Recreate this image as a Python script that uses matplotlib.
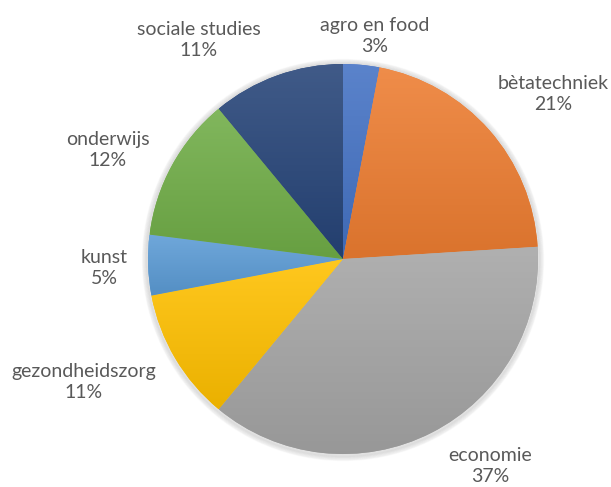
import numpy as np
import matplotlib.pyplot as plt
from matplotlib.colors import to_rgb

# data
sectors = ['agro en food', 'bètatechniek', 'economie', 'gezondheidszorg',
           'kunst', 'onderwijs', 'sociale studies']
shares = [3, 21, 37, 11, 5, 12, 11]
colors = ['#4472C4', '#ED7D31', '#A5A5A5', '#FFC000', '#5B9BD5', '#70AD47', '#264478']

# label anchor points (pixels, from top-left)
label_pos = [(375, 36), (553, 94), (490, 466), (84, 382), (104, 268), (108, 150), (199, 40)]

W, H = 611, 487
cx, cy, r = 343, 259, 195

fig = plt.figure(figsize=(W / 100, H / 100), dpi=100)
ax = fig.add_axes([0, 0, 1, 1])
ax.axis('off')

# soft shadow
for i in range(6):
    sh = plt.Circle((cx, H - cy - 1), r + 1.5 + i * 0.8, color='black', alpha=0.02, zorder=0)
    ax.add_patch(sh)

wedges, _ = ax.pie(shares, startangle=90, counterclock=False, center=(cx, H - cy),
                   radius=r, colors=colors, wedgeprops=dict(linewidth=0))
ax.set_xlim(0, W)
ax.set_ylim(0, H)
ax.set_aspect('equal')


def shade(c, f):
    rgb = np.array(to_rgb(c))
    if f > 0:
        return rgb + (1 - rgb) * f
    return rgb * (1 + f)


# vertical gradient per slice, lighter on top
renderer = fig.canvas.get_renderer()
inv = ax.transData.inverted()
for w, c in zip(wedges, colors):
    bb = w.get_window_extent(renderer)
    (x0, y0), (x1, y1) = inv.transform([(bb.x0, bb.y0), (bb.x1, bb.y1)])
    t = np.linspace(0, 1, 64)[:, None, None]
    top, bot = shade(c, 0.12), shade(c, -0.08)
    img = top[None, None, :] * (1 - t) + bot[None, None, :] * t
    im = ax.imshow(img, extent=(x0, x1, y0, y1), origin='upper', aspect='auto', zorder=2)
    im.set_clip_path(w)

for name, pct, (lx, ly) in zip(sectors, shares, label_pos):
    ax.text(lx, H - ly, f'{name}\n{pct}%', ha='center', va='center', fontsize=14,
            color='#595959', family='Lato', linespacing=1.3, zorder=5)

ax.set_xlim(0, W)
ax.set_ylim(0, H)
fig.savefig('out.png', dpi=100)
